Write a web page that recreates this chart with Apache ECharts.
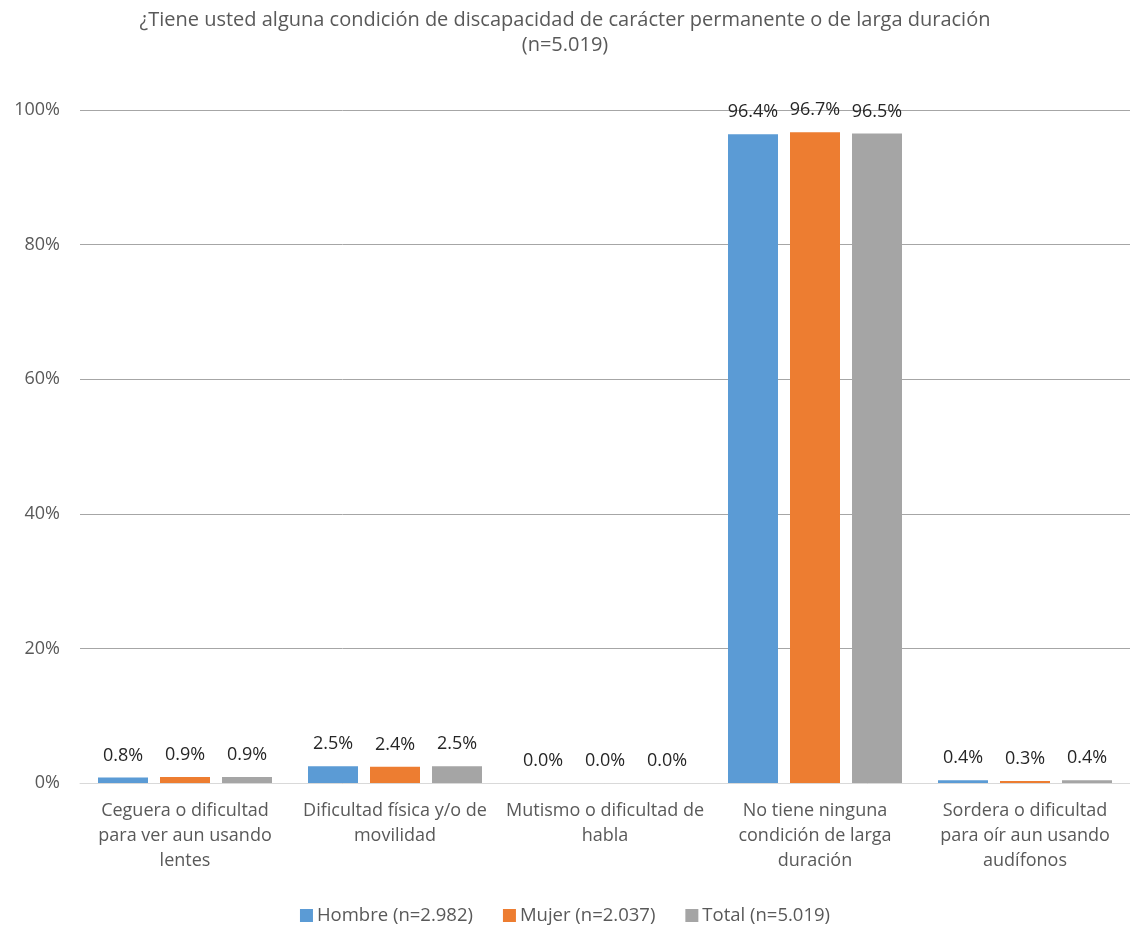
<!DOCTYPE html>
<html><head><meta charset="utf-8">
<script src="https://cdn.jsdelivr.net/npm/echarts@6/dist/echarts.min.js"></script>
<style>html,body{margin:0;padding:0;background:#fff}#c{width:1130px;height:926px}</style>
</head><body><div id="c"></div>
<script>
const titleText = "¿Tiene usted alguna condición de discapacidad de carácter permanente o de larga duración\n(n=5.019)";
const categories = [
  "Ceguera o dificultad\npara ver aun usando\nlentes",
  "Dificultad física y/o de\nmovilidad",
  "Mutismo o dificultad de\nhabla",
  "No tiene ninguna\ncondición de larga\nduración",
  "Sordera o dificultad\npara oír aun usando\naudífonos"
];
const seriesNames = ["Hombre (n=2.982)", "Mujer (n=2.037)", "Total (n=5.019)"];
const hombre = [0.8, 2.5, 0.0, 96.4, 0.4];
const mujer = [0.9, 2.4, 0.0, 96.7, 0.3];
const total = [0.9, 2.5, 0.0, 96.5, 0.4];
const colors = ["#5b9bd5", "#ed7d31", "#a5a5a5"];
const yTicks = [0, 20, 40, 60, 80, 100];

const FONT = "Open Sans";
const chart = echarts.init(document.getElementById('c'), null, {renderer: 'canvas'});
const mk = (name, data, i) => ({
  name, type: 'bar', data,
  itemStyle: {color: colors[i]},
  barWidth: 50, barGap: '24%',
  label: {show: true, position: 'top', distance: 13, formatter: p => p.value.toFixed(1) + '%',
    fontFamily: FONT, fontSize: 18, color: '#262626'}
});
chart.setOption({
  animation: false,
  textStyle: {fontFamily: FONT},
  title: {text: titleText, left: 'center', top: 3,
    textStyle: {fontFamily: FONT, fontSize: 20, fontWeight: 'normal', color: '#595959', lineHeight: 25}},
  grid: {left: 80, right: 0, top: 110, bottom: 143},
  legend: {data: seriesNames, top: 901, left: 'center', itemWidth: 13, itemHeight: 13, itemGap: 30,
    icon: 'rect', textStyle: {fontFamily: FONT, fontSize: 18.5, color: '#595959', padding: [0, 0, 0, -1]}},
  xAxis: {type: 'category', data: categories,
    axisLine: {lineStyle: {color: '#d9d9d9', width: 1}}, axisTick: {show: false},
    axisLabel: {interval: 0, margin: 15, fontFamily: FONT, fontSize: 18, color: '#595959', lineHeight: 25}},
  yAxis: {type: 'value', min: 0, max: 100, interval: 20,
    axisLabel: {formatter: v => yTicks.includes(v) ? v + '%' : '', margin: 20, fontFamily: FONT, fontSize: 18, color: '#595959'},
    splitLine: {lineStyle: {color: '#a6a6a6', width: 1}},
    axisLine: {show: false}, axisTick: {show: false}},
  series: [mk(seriesNames[0], hombre, 0), mk(seriesNames[1], mujer, 1), mk(seriesNames[2], total, 2)]
});
</script></body></html>
